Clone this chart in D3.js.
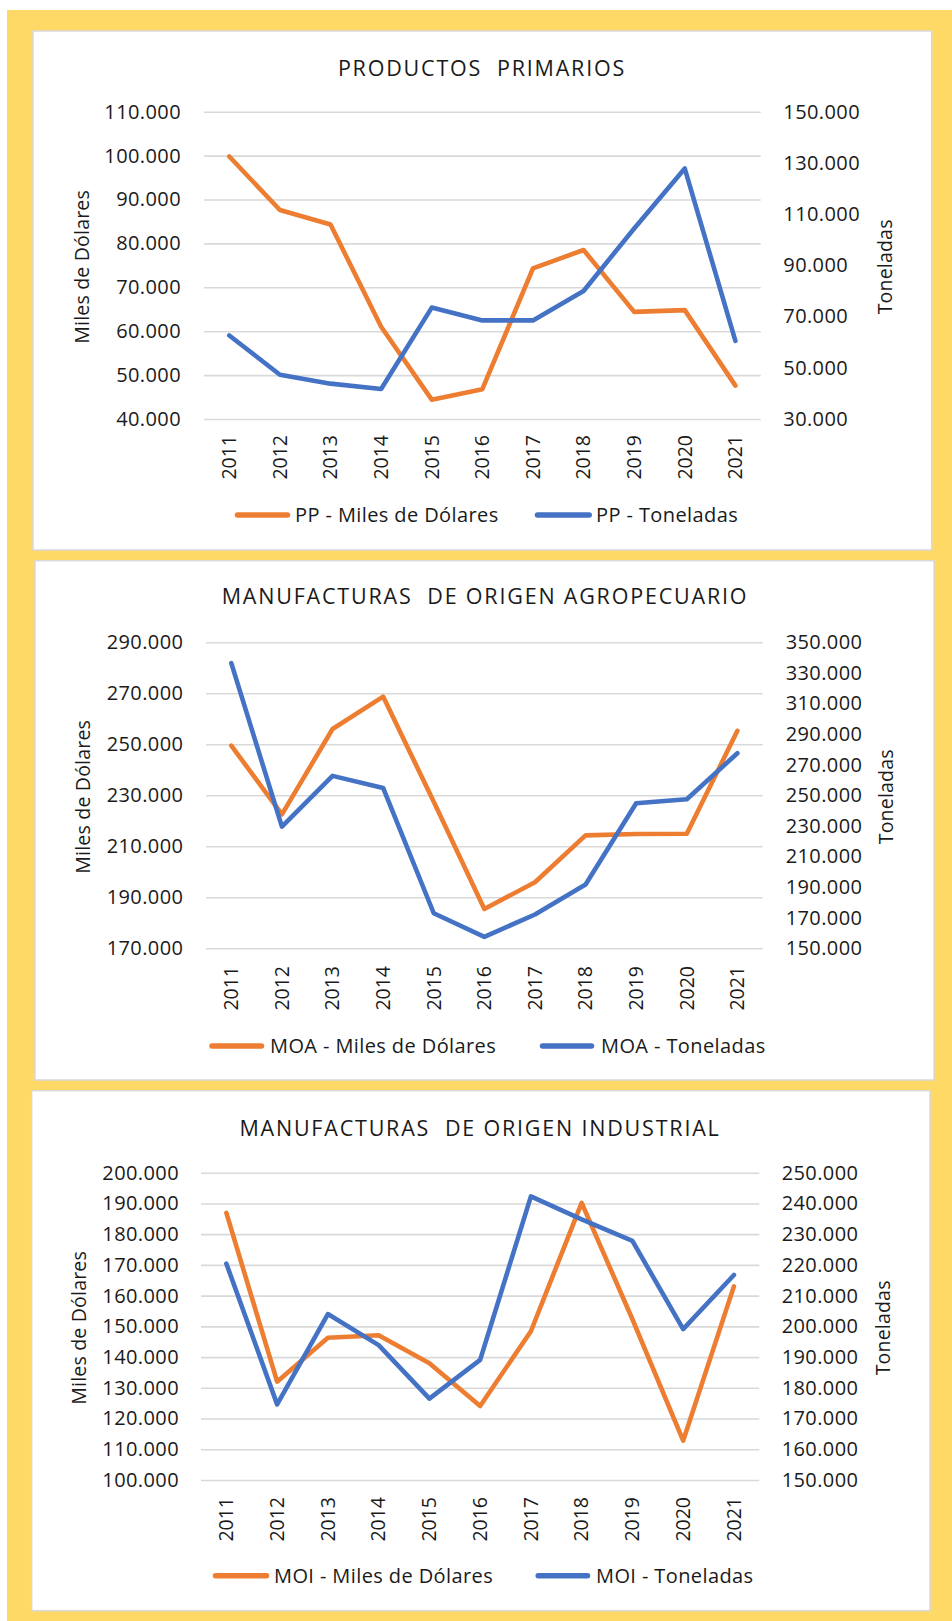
<!DOCTYPE html>
<html>
<head>
<meta charset="utf-8">
<script src="https://cdn.jsdelivr.net/npm/d3@7"></script>
<style>
  html, body { margin: 0; padding: 0; background: #ffffff; }
  svg { display: block; }
  text { font-family: "Open Sans", "Liberation Sans", sans-serif; fill: #1a1a1a; }
</style>
</head>
<body>
<svg id="chart" width="952" height="1621"></svg>
<script>
// ---------------- DATA ----------------
const years = [2011, 2012, 2013, 2014, 2015, 2016, 2017, 2018, 2019, 2020, 2021];

const titles = ["PRODUCTOS  PRIMARIOS", "MANUFACTURAS  DE ORIGEN AGROPECUARIO", "MANUFACTURAS  DE ORIGEN INDUSTRIAL"];
const prefixes = ["PP", "MOA", "MOI"];
const leftTitle = "Miles de Dólares";
const rightTitle = "Toneladas";

// Miles de Dólares (left axis)
const ppMiles  = [99800, 87600, 84300, 61000, 44400, 46800, 74300, 78500, 64400, 64800, 47600];
const moaMiles = [249500, 222500, 256000, 268700, 227500, 185400, 195900, 214300, 214800, 214900, 255300];
const moiMiles = [186900, 132000, 146300, 147100, 138000, 124100, 148400, 190200, 152300, 112800, 163000];

// Toneladas (right axis)
const ppTon  = [62600, 47300, 43800, 41700, 73500, 68500, 68500, 80000, 104400, 127800, 60500];
const moaTon = [336400, 229500, 262700, 254800, 172900, 157500, 172100, 191700, 244800, 247400, 277500];
const moiTon = [220400, 174600, 204000, 193900, 176500, 189100, 242300, 234800, 227800, 199100, 216700];

// Tick values
const ppLeftTicks   = [40000, 50000, 60000, 70000, 80000, 90000, 100000, 110000];
const ppRightTicks  = [30000, 50000, 70000, 90000, 110000, 130000, 150000];
const moaLeftTicks  = [170000, 190000, 210000, 230000, 250000, 270000, 290000];
const moaRightTicks = [150000, 170000, 190000, 210000, 230000, 250000, 270000, 290000, 310000, 330000, 350000];
const moiLeftTicks  = [100000, 110000, 120000, 130000, 140000, 150000, 160000, 170000, 180000, 190000, 200000];
const moiRightTicks = [150000, 160000, 170000, 180000, 190000, 200000, 210000, 220000, 230000, 240000, 250000];

// ---------------- LAYOUT ----------------
const charts = [
  { title: titles[0], prefix: prefixes[0], miles: ppMiles, ton: ppTon, lt: ppLeftTicks, rt: ppRightTicks,
    panel: [33, 31, 898.7, 519], x0: 204, x1: 760.7, yT: 111.7, yB: 419, titleY: 75.5, titleX: 482,
    lLab: 181, rLab: 783.3, lTit: 81.7, rTit: 885, yearsY: 435,
    legY: 515, leg: [[235, 290, 295], [535, 591.7, 596]] },
  { title: titles[1], prefix: prefixes[1], miles: moaMiles, ton: moaTon, lt: moaLeftTicks, rt: moaRightTicks,
    panel: [35, 560.7, 899, 519.3], x0: 206, x1: 762.7, yT: 642.3, yB: 948.3, titleY: 604.3, titleX: 485,
    lLab: 183.3, rLab: 785.7, lTit: 83, rTit: 886.5, yearsY: 966,
    legY: 1046, leg: [[209.5, 264, 270], [540, 594, 601]] },
  { title: titles[2], prefix: prefixes[2], miles: moiMiles, ton: moiTon, lt: moiLeftTicks, rt: moiRightTicks,
    panel: [31.7, 1090.7, 898.3, 520], x0: 201, x1: 759.3, yT: 1172.7, yB: 1480, titleY: 1136, titleX: 480,
    lLab: 179, rLab: 781.7, lTit: 79, rTit: 883.4, yearsY: 1497,
    legY: 1575.7, leg: [[213, 269, 274], [535.7, 590, 596]] }
];

const ORANGE = "#ED7D31", BLUE = "#4472C4", GRID = "#d9d9d9";
const locale = d3.formatLocale({ decimal: ",", thousands: ".", grouping: [3], currency: ["$", ""] });
const fmt = locale.format(",.0f");

const svg = d3.select("#chart");
svg.append("rect").attr("x", 0).attr("y", 0).attr("width", 952).attr("height", 1621).attr("fill", "#ffffff");
svg.append("rect").attr("x", 7).attr("y", 10).attr("width", 945).attr("height", 1611).attr("fill", "#FFD966");

charts.forEach(c => {
  const g = svg.append("g");
  const [px, py, pw, ph] = c.panel;
  g.append("rect").attr("x", px).attr("y", py).attr("width", pw).attr("height", ph)
    .attr("fill", "#ffffff").attr("stroke", GRID).attr("stroke-width", 1.5);

  const x = d3.scaleBand().domain(years).range([c.x0, c.x1]);
  const yL = d3.scaleLinear().domain(d3.extent(c.lt)).range([c.yB, c.yT]);
  const yR = d3.scaleLinear().domain(d3.extent(c.rt)).range([c.yB, c.yT]);
  const cx = d => x(d) + x.bandwidth() / 2;

  // gridlines from the left axis
  const leftAxis = d3.axisLeft(yL).tickValues(c.lt).tickFormat(fmt).tickSize(-(c.x1 - c.x0)).tickPadding(c.x0 - c.lLab);
  const la = g.append("g").attr("transform", `translate(${c.x0},0)`).call(leftAxis);
  la.select(".domain").remove();
  la.selectAll(".tick line").attr("stroke", GRID).attr("stroke-width", 1.6);
  la.selectAll(".tick text").attr("font-size", 20).attr("letter-spacing", 0.4)
    .attr("fill", "#1a1a1a").attr("font-family", '"Open Sans", sans-serif');

  const rightAxis = d3.axisRight(yR).tickValues(c.rt).tickFormat(fmt).tickSize(0).tickPadding(c.rLab - c.x1);
  const ra = g.append("g").attr("transform", `translate(${c.x1},0)`).call(rightAxis);
  ra.select(".domain").remove();
  ra.selectAll(".tick text").attr("font-size", 20).attr("letter-spacing", 0.4)
    .attr("fill", "#1a1a1a").attr("font-family", '"Open Sans", sans-serif');

  // x axis (rotated years)
  const bottomAxis = d3.axisBottom(x).tickSize(0).tickPadding(0);
  const ba = g.append("g").attr("transform", `translate(0,${c.yearsY})`).call(bottomAxis);
  ba.select(".domain").remove();
  ba.selectAll(".tick text")
    .attr("font-size", 19.5).attr("fill", "#1a1a1a").attr("font-family", '"Open Sans", sans-serif')
    .attr("text-anchor", "end").attr("transform", "rotate(-90)")
    .attr("x", 0).attr("y", 0).attr("dy", "0.35em");

  // title (keep double spaces)
  g.append("text").attr("x", c.titleX).attr("y", c.titleY).attr("text-anchor", "middle")
    .attr("xml:space", "preserve").style("white-space", "pre")
    .attr("font-size", 21.5).attr("letter-spacing", 1.8).text(c.title);

  // axis titles
  const midY = (c.yT + c.yB) / 2 + 1.5;
  g.append("text").attr("transform", `translate(${c.lTit},${midY}) rotate(-90)`)
    .attr("text-anchor", "middle").attr("dy", "0.35em").attr("font-size", 19.5).attr("letter-spacing", 0.2)
    .text(leftTitle);
  g.append("text").attr("transform", `translate(${c.rTit},${midY}) rotate(-90)`)
    .attr("text-anchor", "middle").attr("dy", "0.35em").attr("font-size", 19.5).attr("letter-spacing", 0.2)
    .text(rightTitle);

  // lines
  const lineL = d3.line().x((d, i) => cx(years[i])).y(d => yL(d));
  const lineR = d3.line().x((d, i) => cx(years[i])).y(d => yR(d));
  g.append("path").datum(c.miles).attr("d", lineL).attr("fill", "none")
    .attr("stroke", ORANGE).attr("stroke-width", 4.6).attr("stroke-linejoin", "round").attr("stroke-linecap", "round");
  g.append("path").datum(c.ton).attr("d", lineR).attr("fill", "none")
    .attr("stroke", BLUE).attr("stroke-width", 4.6).attr("stroke-linejoin", "round").attr("stroke-linecap", "round");

  // legend
  const items = [[ORANGE, `${c.prefix} - Miles de Dólares`], [BLUE, `${c.prefix} - Toneladas`]];
  items.forEach((it, i) => {
    const [l0, l1, tx] = c.leg[i];
    g.append("line").attr("x1", l0 + 2.5).attr("x2", l1 - 2.5).attr("y1", c.legY).attr("y2", c.legY)
      .attr("stroke", it[0]).attr("stroke-width", 5.5).attr("stroke-linecap", "round");
    g.append("text").attr("x", tx).attr("y", c.legY).attr("dy", "0.35em")
      .attr("font-size", 20).attr("letter-spacing", 0.4).text(it[1]);
  });
});
</script>
</body>
</html>
